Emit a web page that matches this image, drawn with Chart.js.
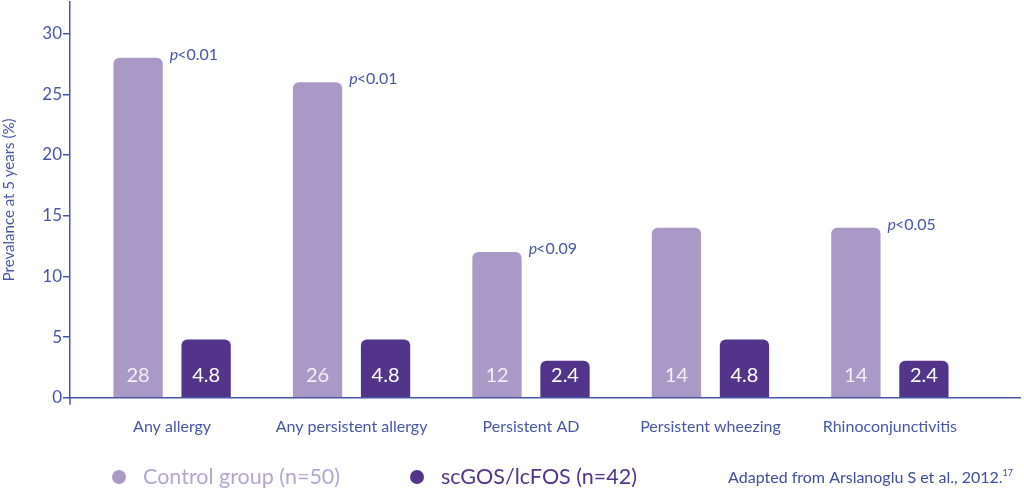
<!DOCTYPE html>
<html>
<head>
<meta charset="utf-8">
<script src="https://cdn.jsdelivr.net/npm/chart.js@4"></script>
<style>
html,body{margin:0;padding:0;background:#fff;}
#wrap{width:1024px;height:496px;position:relative;}
</style>
</head>
<body>
<div id="wrap"><canvas id="c" width="1024" height="496"></canvas></div>
<script>
const categories = ['Any allergy', 'Any persistent allergy', 'Persistent AD', 'Persistent wheezing', 'Rhinoconjunctivitis'];
const controlValues = [28, 26, 12, 14, 14];
const treatedValues = [4.8, 4.8, 2.4, 4.8, 2.4];
const pValues = ['<0.01', '<0.01', '<0.09', '', '<0.05'];
const yTicks = [0, 5, 10, 15, 20, 25, 30];
const seriesNames = ['Control group (n=50)', 'scGOS/lcFOS (n=42)'];
const sourceNote = 'Adapted from Arslanoglu S et al., 2012.';
const sourceRef = '17';

const AXIS = '#4656a8';
const LIGHT = '#aa98c6';
const DARK = '#52358a';
const FONT = 'Lato, "Open Sans", sans-serif';

const labelPlugin = {
  id: 'labels',
  afterDatasetsDraw(chart) {
    const ctx = chart.ctx;
    ctx.save();
    chart.data.datasets.forEach((ds, di) => {
      const meta = chart.getDatasetMeta(di);
      meta.data.forEach((bar, i) => {
        ctx.font = '20px ' + FONT;
        ctx.fillStyle = di === 0 ? '#f3eff8' : '#ffffff';
        ctx.textAlign = 'center';
        ctx.textBaseline = 'middle';
        ctx.fillText(String(ds.data[i].y), bar.x, bar.base - 22);
      });
    });
    const meta0 = chart.getDatasetMeta(0);
    meta0.data.forEach((bar, i) => {
      if (!pValues[i]) return;
      const x = bar.x + bar.width / 2 + 7;
      const y = bar.y - 3;
      ctx.fillStyle = AXIS;
      ctx.textAlign = 'left';
      ctx.textBaseline = 'middle';
      ctx.font = 'italic 16px ' + FONT;
      ctx.fillText('p', x, y);
      const w = ctx.measureText('p').width;
      ctx.font = '16px ' + FONT;
      ctx.fillText(pValues[i], x + w - 1, y);
    });
    const a = chart.chartArea;
    ctx.strokeStyle = AXIS;
    ctx.lineWidth = 1.5;
    ctx.beginPath();
    ctx.moveTo(a.left, a.bottom);
    ctx.lineTo(a.left, a.bottom + 7);
    ctx.stroke();
    const colors = [LIGHT, DARK];
    const textColors = ['#b4a5d1', DARK];
    const cx = [119, 417];
    const ly = 477;
    seriesNames.forEach((name, i) => {
      ctx.fillStyle = colors[i];
      ctx.beginPath();
      ctx.arc(cx[i], ly, 7, 0, Math.PI * 2);
      ctx.fill();
      ctx.fillStyle = textColors[i];
      ctx.font = '21.5px ' + FONT;
      ctx.textAlign = 'left';
      ctx.textBaseline = 'middle';
      ctx.fillText(name, cx[i] + 24, ly);
    });
    ctx.font = '9px ' + FONT;
    const rw = ctx.measureText(sourceRef).width;
    ctx.fillStyle = '#3e4d9e';
    ctx.textAlign = 'right';
    ctx.textBaseline = 'alphabetic';
    ctx.fillText(sourceRef, 1013, 476);
    ctx.font = '16px ' + FONT;
    ctx.fillText(sourceNote, 1013 - rw, 483);
    ctx.restore();
  }
};

new Chart(document.getElementById('c'), {
  type: 'bar',
  data: {
    datasets: [
      {
        label: seriesNames[0],
        data: controlValues.map((v, i) => ({x: i, y: v})),
        backgroundColor: LIGHT,
        borderRadius: {topLeft: 6, topRight: 6, bottomLeft: 0, bottomRight: 0},
        borderSkipped: 'start'
      },
      {
        label: seriesNames[1],
        data: treatedValues.map((v, i) => ({x: i, y: v})),
        backgroundColor: DARK,
        minBarLength: 37,
        borderRadius: {topLeft: 6, topRight: 6, bottomLeft: 0, bottomRight: 0},
        borderSkipped: 'start'
      }
    ]
  },
  options: {
    responsive: false,
    animation: false,
    devicePixelRatio: 1,
    categoryPercentage: 0.758,
    barPercentage: 0.725,
    layout: {padding: {top: 2, right: 4, left: 0, bottom: 49}},
    plugins: {legend: {display: false}, tooltip: {enabled: false}},
    scales: {
      x: {
        type: 'linear',
        offset: false,
        min: -0.569,
        max: 4.725,
        grid: {display: false},
        border: {display: true, color: AXIS, width: 1.5},
        ticks: {
          stepSize: 1,
          includeBounds: false,
          autoSkip: false,
          maxRotation: 0,
          padding: 11,
          color: AXIS,
          font: {family: FONT, size: 16},
          callback: (v) => Number.isInteger(v) ? categories[v] : ''
        },
        afterFit(s) { s.paddingLeft = 0; s.paddingRight = 0; }
      },
      y: {
        min: 0,
        max: 32.6,
        afterBuildTicks(s) { s.ticks = yTicks.map(v => ({value: v})); },
        grid: {display: true, drawOnChartArea: false, drawTicks: true, tickLength: 7, color: AXIS, lineWidth: 1.5},
        border: {display: true, color: AXIS, width: 1.5},
        ticks: {padding: 1, color: AXIS, font: {family: FONT, size: 17}},
        title: {display: true, text: 'Prevalance at 5 years (%)', color: AXIS, font: {family: FONT, size: 15}, padding: {top: 0, bottom: 0}},
        afterFit(s) { s.width = 70; s.paddingTop = 0; s.paddingBottom = 0; }
      }
    }
  },
  plugins: [labelPlugin]
});
</script>
</body>
</html>
